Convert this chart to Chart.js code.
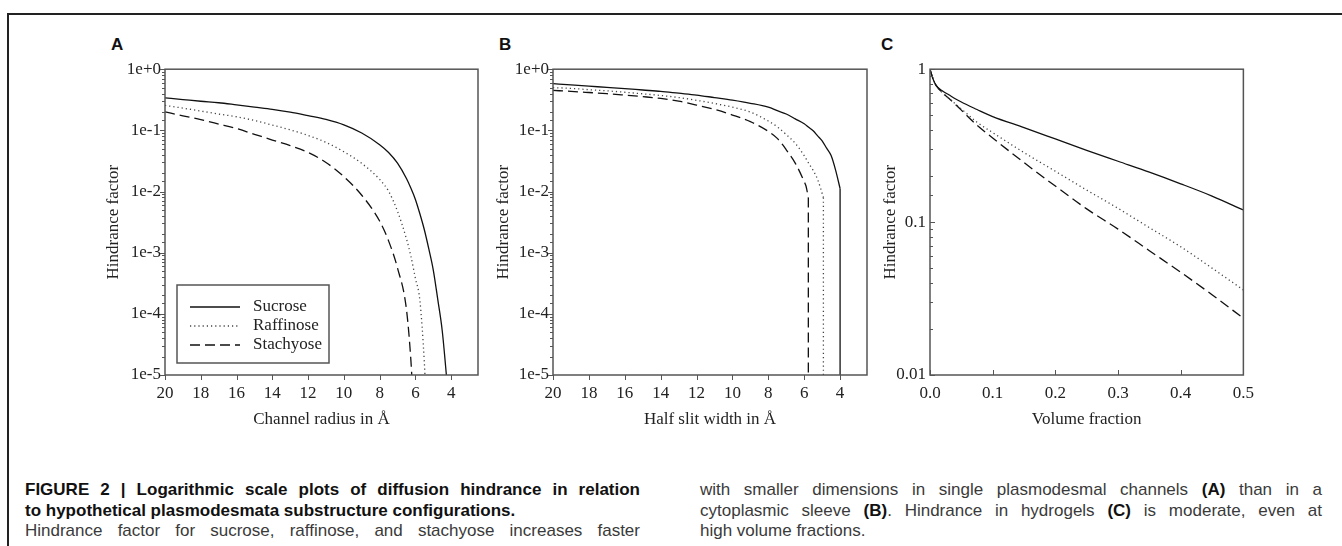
<!DOCTYPE html>
<html>
<head>
<meta charset="utf-8">
<script src="https://cdn.jsdelivr.net/npm/chart.js@4.4.1/dist/chart.umd.min.js"></script>
<style>
  body { margin: 0; background: #fff; width: 1342px; height: 546px; overflow: hidden; position: relative; }
  #frame { position: absolute; left: 7px; top: 13px; right: -5px; bottom: -5px; border-top: 2px solid #222; border-left: 2px solid #222; }
  canvas { position: absolute; }
  .plabel { position: absolute; font: bold 17px "Liberation Sans", Arial, sans-serif; color: #111; }
  .cap { position: absolute; font-family: "Liberation Sans", Arial, sans-serif; font-size: 17px; line-height: 20.5px; color: #3a3a3a; white-space: nowrap; }
  .cap b { color: #111; }
  .cap .j { text-align: justify; text-align-last: justify; white-space: normal; }
</style>
</head>
<body>
<div id="frame"></div>
<div class="plabel" style="left:111px; top:35px;">A</div>
<div class="plabel" style="left:499px; top:35px;">B</div>
<div class="plabel" style="left:881px; top:35px;">C</div>
<canvas id="chartA" width="410" height="380" style="left:80px; top:55px;"></canvas>
<canvas id="chartB" width="411" height="380" style="left:468px; top:55px;"></canvas>
<canvas id="chartC" width="417" height="380" style="left:845px; top:55px;"></canvas>

<div class="cap" style="left:25px; top:480px; width:615px;">
  <div class="j"><b>FIGURE 2 | Logarithmic scale plots of diffusion hindrance in relation</b></div>
  <div><b>to hypothetical plasmodesmata substructure configurations.</b></div>
  <div class="j">Hindrance factor for sucrose, raffinose, and stachyose increases faster</div>
</div>
<div class="cap" style="left:700px; top:480px; width:622px;">
  <div class="j">with smaller dimensions in single plasmodesmal channels <b>(A)</b> than in a</div>
  <div class="j">cytoplasmic sleeve <b>(B)</b>. Hindrance in hydrogels <b>(C)</b> is moderate, even at</div>
  <div>high volume fractions.</div>
</div>

<script>
// panel A: channel radius (Å) vs hindrance factor
const radiusSucroseA = [20, 19, 18, 17, 16, 15, 14, 13, 12, 11, 10, 9, 8, 7.5, 7, 6.5, 6.25, 6, 5.75, 5.5, 5.25, 5, 4.75, 4.5, 4.2];
const sucroseA = [0.34, 0.319, 0.299, 0.283, 0.261, 0.240, 0.221, 0.199, 0.174, 0.151, 0.123, 0.0904, 0.0583, 0.0435, 0.0291, 0.0163, 0.0113, 0.00743, 0.00433, 0.00237, 0.00115, 5.2e-4, 1.72e-4, 5.3e-5, 6e-6];
const radiusRaffinoseA = [20, 19, 18, 17, 16, 15, 14, 13, 12, 11, 10, 9, 8, 7.5, 7, 6.5, 6.25, 6, 5.75, 5.5, 5.42];
const raffinoseA = [0.256, 0.231, 0.207, 0.185, 0.167, 0.145, 0.122, 0.102, 0.0826, 0.0635, 0.0447, 0.0288, 0.0158, 0.0101, 0.00474, 0.00168, 8.7e-4, 3.8e-4, 1.66e-4, 1.6e-5, 5e-6];
const radiusStachyoseA = [20, 19, 18, 17, 16, 15, 14, 13, 12, 11, 10, 9, 8, 7.5, 7, 6.5, 6.25, 6.15];
const stachyoseA = [0.20, 0.173, 0.150, 0.127, 0.107, 0.0863, 0.0695, 0.0564, 0.0436, 0.0299, 0.0175, 0.0087, 0.00329, 0.00156, 5.6e-4, 1.18e-4, 1.7e-5, 5e-6];

// panel B: half slit width (Å) vs hindrance factor; each curve ends where it drops to zero
const slitSucroseB = [20, 19, 18, 17, 16, 15, 14, 13, 12, 11, 10, 9, 8, 7.5, 7, 6.5, 6, 5.75, 5.5, 5.25, 5, 4.75, 4.5, 4.25, 4];
const sucroseB = [0.58, 0.553, 0.528, 0.505, 0.482, 0.457, 0.434, 0.405, 0.378, 0.343, 0.311, 0.277, 0.239, 0.210, 0.185, 0.154, 0.128, 0.112, 0.0984, 0.0813, 0.0673, 0.0511, 0.0387, 0.0224, 0.0112];
const slitRaffinoseB = [20, 19, 18, 17, 16, 15, 14, 13, 12, 11, 10, 9, 8, 7.5, 7, 6.5, 6, 5.75, 5.5, 5.25, 4.93];
const raffinoseB = [0.50, 0.485, 0.463, 0.443, 0.420, 0.396, 0.372, 0.344, 0.310, 0.275, 0.240, 0.199, 0.142, 0.114, 0.0853, 0.0615, 0.0386, 0.0289, 0.0221, 0.0157, 0.008];
const slitStachyoseB = [20, 19, 18, 17, 16, 15, 14, 13, 12, 11, 10, 9, 8, 7.5, 7, 6.5, 6, 5.9, 5.77];
const stachyoseB = [0.45, 0.434, 0.416, 0.398, 0.377, 0.356, 0.333, 0.300, 0.259, 0.220, 0.178, 0.139, 0.0962, 0.074, 0.0481, 0.0292, 0.0145, 0.0123, 0.008];

// panel C: volume fraction vs hindrance factor
const volumeC = [0, 0.005, 0.01, 0.02, 0.03, 0.05, 0.075, 0.1, 0.15, 0.2, 0.25, 0.3, 0.35, 0.4, 0.45, 0.5];
const sucroseC = [1, 0.86, 0.78, 0.72, 0.68, 0.61, 0.545, 0.49, 0.415, 0.35, 0.295, 0.25, 0.212, 0.178, 0.148, 0.12];
const raffinoseC = [1, 0.86, 0.78, 0.70, 0.645, 0.55, 0.45, 0.385, 0.285, 0.215, 0.162, 0.123, 0.092, 0.069, 0.05, 0.036];
const stachyoseC = [1, 0.86, 0.78, 0.70, 0.645, 0.54, 0.43, 0.355, 0.245, 0.172, 0.122, 0.09, 0.065, 0.047, 0.0335, 0.0235];

const seriesNames = ['Sucrose', 'Raffinose', 'Stachyose'];
const radiusTicks = [20, 18, 16, 14, 12, 10, 8, 6, 4];
const volumeTicks = [0, 0.1, 0.2, 0.3, 0.4, 0.5];

const serif = { family: '"Liberation Serif", "Times New Roman", serif', size: 17 };
const styles = [
    { borderColor: '#111', borderDash: [] },
    { borderColor: '#444', borderDash: [1.2, 3] },
    { borderColor: '#111', borderDash: [10, 5] }
];

function isDecade(v) {
    const e = Math.log10(v);
    return Math.abs(e - Math.round(e)) < 1e-6;
}

// axis box, tick marks and the boxed legend
const frameTicks = {
    id: 'frameTicks',
    afterDatasetsDraw(chart, args, opts) {
        const ctx = chart.ctx;
        const a = chart.chartArea;
        const x = chart.scales.x, y = chart.scales.y;
        const dir = opts.inward ? 1 : -1;
        ctx.save();
        ctx.strokeStyle = '#555';
        ctx.lineWidth = 1.5;
        ctx.strokeRect(a.left, a.top, a.right - a.left, a.bottom - a.top);
        ctx.lineWidth = 1;
        ctx.beginPath();
        y.ticks.forEach(t => {
            const py = Math.round(y.getPixelForValue(t.value)) + 0.5;
            const len = isDecade(t.value) ? 5 : 3;
            ctx.moveTo(a.left, py);
            ctx.lineTo(a.left + dir * len, py);
        });
        x.ticks.forEach(t => {
            const px = Math.round(x.getPixelForValue(t.value)) + 0.5;
            ctx.moveTo(px, a.bottom);
            ctx.lineTo(px, a.bottom - dir * 5);
        });
        ctx.stroke();

        if (opts.legend) {
            const bx = a.left + 12, by = a.bottom - 90, bw = 152, bh = 78;
            ctx.lineWidth = 1.5;
            ctx.strokeStyle = '#555';
            ctx.strokeRect(bx, by, bw, bh);
            ctx.font = '17px "Liberation Serif", "Times New Roman", serif';
            ctx.fillStyle = '#222';
            ctx.textBaseline = 'middle';
            chart.data.datasets.slice(0, 3).forEach((ds, i) => {
                const ly = by + 22 + i * 19;
                ctx.strokeStyle = ds.borderColor;
                ctx.lineWidth = ds.borderWidth;
                ctx.setLineDash(ds.borderDash);
                ctx.beginPath();
                ctx.moveTo(bx + 13, ly);
                ctx.lineTo(bx + 63, ly);
                ctx.stroke();
                ctx.setLineDash([]);
                ctx.fillText(ds.label, bx + 76, ly);
            });
        }
        ctx.restore();
    }
};

function lineStyle(i) {
    return {
        borderColor: styles[i].borderColor,
        borderDash: styles[i].borderDash,
        borderWidth: 1.3,
        pointRadius: 0,
        fill: false
    };
}

function makePanel(id, p) {
    const datasets = p.series.map((s, i) => Object.assign({
        label: seriesNames[i],
        data: s.xs.map((x, j) => ({ x: x, y: s.ys[j] })),
        cubicInterpolationMode: 'monotone'
    }, lineStyle(i)));

    // vertical drop from the last computed point down to the axis
    if (p.drops) {
        p.series.forEach((s, i) => {
            const n = s.xs.length - 1;
            datasets.push(Object.assign({
                label: seriesNames[i] + ' drop',
                data: [{ x: s.xs[n], y: s.ys[n] }, { x: s.xs[n], y: p.ymin }]
            }, lineStyle(i)));
        });
    }

    new Chart(document.getElementById(id), {
        type: 'line',
        data: { datasets: datasets },
        options: {
            responsive: false,
            animation: false,
            devicePixelRatio: 1,
            layout: { padding: { top: 10, right: 12, left: 0, bottom: 0 } },
            scales: {
                x: {
                    type: 'linear',
                    reverse: p.reverse,
                    min: p.xmin,
                    max: p.xmax,
                    afterBuildTicks: s => { s.ticks = p.xticks.map(v => ({ value: v })); },
                    afterFit: s => { s.height = 60; },
                    grid: { display: false, drawTicks: false },
                    border: { display: false },
                    ticks: {
                        autoSkip: false, maxRotation: 0, padding: 8,
                        font: serif, color: '#222',
                        callback: p.xfmt
                    },
                    title: { display: true, text: p.xtitle, font: serif, color: '#222', padding: { top: 0, bottom: 5 } }
                },
                y: {
                    type: 'logarithmic',
                    min: p.ymin,
                    max: 1,
                    afterFit: s => { s.width = 85; },
                    grid: { display: false, drawTicks: false },
                    border: { display: false },
                    ticks: {
                        autoSkip: false, padding: 4,
                        font: serif, color: '#222',
                        callback: p.yfmt
                    },
                    title: { display: true, text: 'Hindrance factor', font: serif, color: '#222', padding: { top: p.ytitlePad, bottom: 0 } }
                }
            },
            plugins: {
                legend: { display: false },
                tooltip: { enabled: false },
                frameTicks: { inward: p.inward, legend: p.legend }
            }
        },
        plugins: [frameTicks]
    });
}

const expFmt = v => {
    if (!isDecade(v)) return '';
    const e = Math.round(Math.log10(v));
    return '1e' + (e >= 0 ? '+' : '-') + Math.abs(e);
};

makePanel('chartA', {
    series: [
        { xs: radiusSucroseA, ys: sucroseA },
        { xs: radiusRaffinoseA, ys: raffinoseA },
        { xs: radiusStachyoseA, ys: stachyoseA }
    ],
    reverse: true, xmin: 2.5, xmax: 20, xticks: radiusTicks, xfmt: v => String(v),
    xtitle: 'Channel radius in Å', ymin: 1e-5, yfmt: expFmt,
    ytitlePad: 23, inward: false, legend: true, drops: false
});

makePanel('chartB', {
    series: [
        { xs: slitSucroseB, ys: sucroseB },
        { xs: slitRaffinoseB, ys: raffinoseB },
        { xs: slitStachyoseB, ys: stachyoseB }
    ],
    reverse: true, xmin: 2.5, xmax: 20, xticks: radiusTicks, xfmt: v => String(v),
    xtitle: 'Half slit width in Å', ymin: 1e-5, yfmt: expFmt,
    ytitlePad: 25, inward: false, legend: false, drops: true
});

makePanel('chartC', {
    series: [
        { xs: volumeC, ys: sucroseC },
        { xs: volumeC, ys: raffinoseC },
        { xs: volumeC, ys: stachyoseC }
    ],
    reverse: false, xmin: 0, xmax: 0.5, xticks: volumeTicks, xfmt: v => v.toFixed(1),
    xtitle: 'Volume fraction', ymin: 0.01,
    yfmt: v => isDecade(v) ? String(Number(v.toPrecision(1))) : '',
    ytitlePad: 35, inward: true, legend: false, drops: false
});
</script>
</body>
</html>
